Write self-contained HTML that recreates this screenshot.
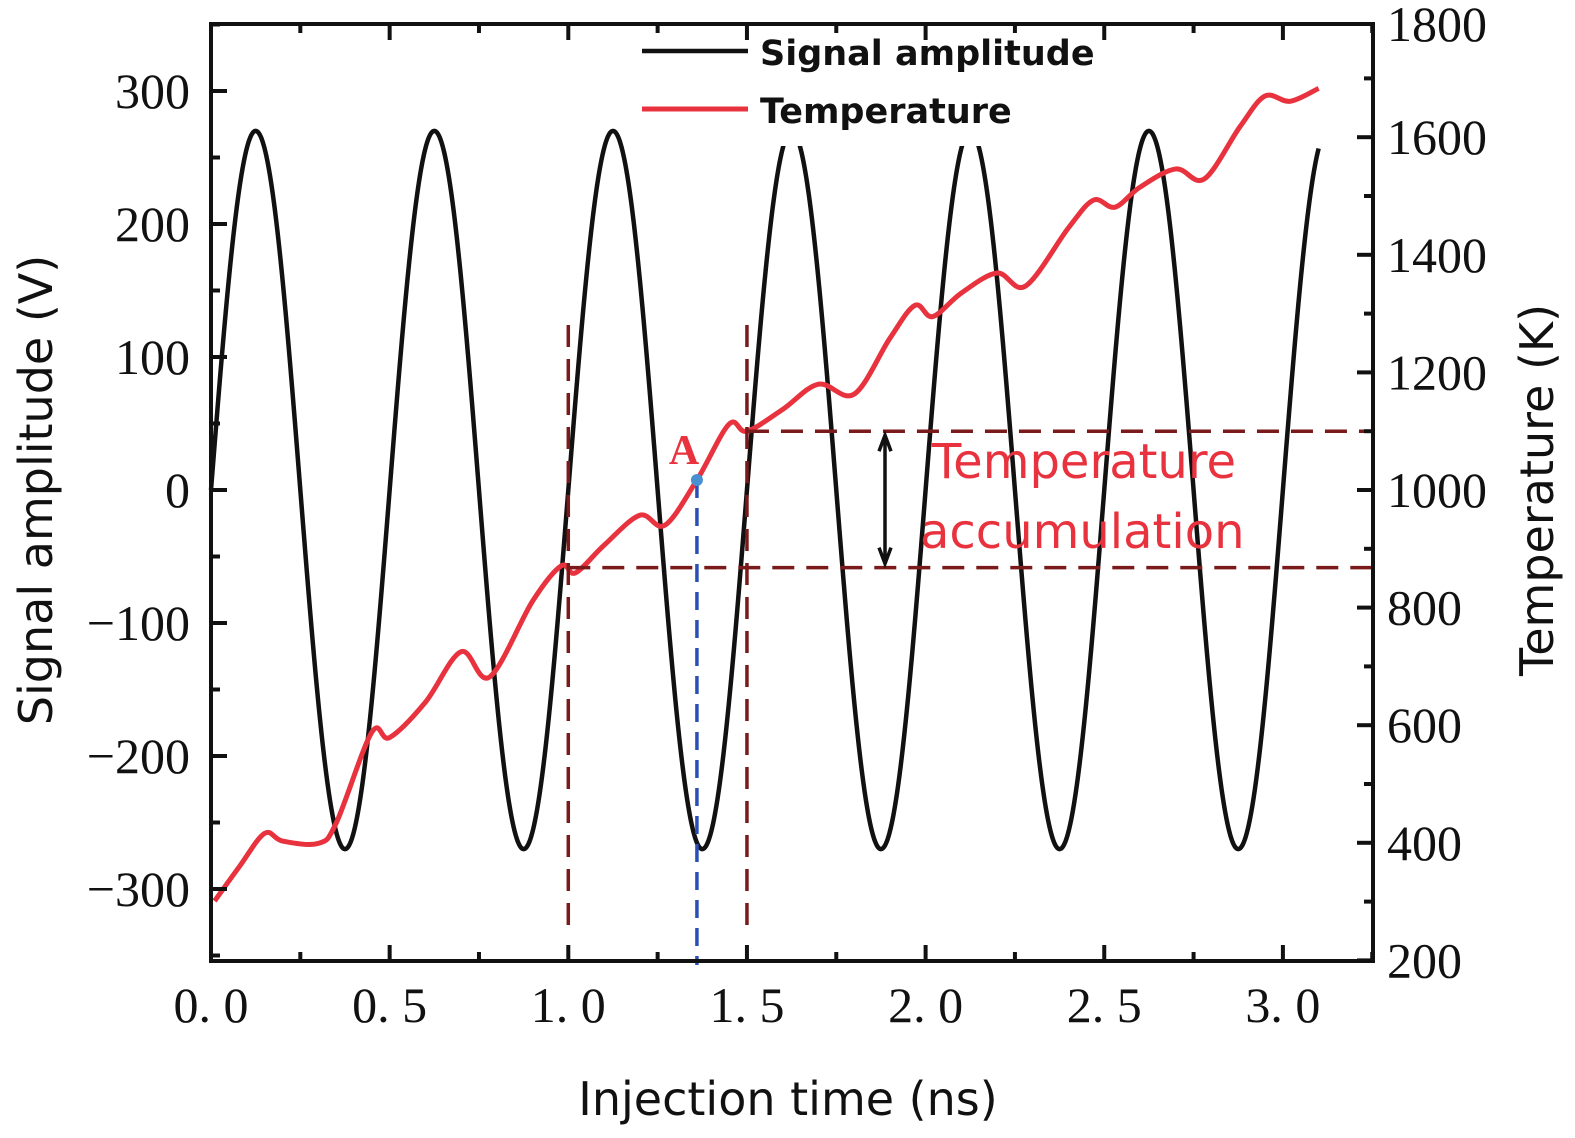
<!DOCTYPE html>
<html><head><meta charset="utf-8"><style>
html,body{margin:0;padding:0;background:#fff;}
svg{display:block;}
.tk{font-family:"Liberation Serif",serif;font-size:50px;fill:#111;}
.ax{font-family:"DejaVu Sans","Liberation Sans",sans-serif;font-size:46px;fill:#111;}
</style></head><body>
<svg id="chart" width="1575" height="1138" viewBox="0 0 1575 1138">
<g id="g-plot"></g>
</svg>
<script>
const timeTicks=[0,0.5,1.0,1.5,2.0,2.5,3.0];
const timeTickLabels=["0. 0","0. 5","1. 0","1. 5","2. 0","2. 5","3. 0"];
const ampTicks=[-300,-200,-100,0,100,200,300];
const ampTickLabels=["\u2212300","\u2212200","\u2212100","0","100","200","300"];
const tempTicks=[200,400,600,800,1000,1200,1400,1600,1800];
const tempTime=[0.01,0.08,0.15,0.2,0.3,0.35,0.45,0.5,0.6,0.7,0.78,0.9,0.98,1.02,1.1,1.2,1.27,1.36,1.45,1.5,1.6,1.7,1.8,1.9,1.97,2.02,2.1,2.2,2.28,2.4,2.47,2.53,2.6,2.7,2.78,2.88,2.95,3.02,3.1];
const tempValues=[301,360,416,403,399,433,588,579,639,725,682,811,871,859,906,957,940,1017,1112,1100,1137,1180,1163,1258,1314,1295,1335,1369,1347,1446,1493,1481,1515,1546,1529,1618,1670,1661,1683];
const signalAmplitude=[270];
const signalPeriod=[0.5];
const signalEnd=[3.1];
const pointA=[1.36,1017];
const accumLow=[868];
const accumHigh=[1100];
const windowStart=[1.0];
const windowEnd=[1.5];

const L=211,R=1373,T=24,B=961;
const xS=t=>L+t*357.3;
const yA=v=>490-v*1.33;
const yT=k=>490-(k-1000)*0.588;
const NS="http://www.w3.org/2000/svg";
const g=document.getElementById('g-plot');
function mk(tag,attrs,parent){const e=document.createElementNS(NS,tag);for(const k in attrs)e.setAttribute(k,attrs[k]);(parent||g).appendChild(e);return e;}

let d="";
const N=1200;
for(let i=0;i<=N;i++){const t=signalEnd[0]*i/N;const v=signalAmplitude[0]*Math.sin(2*Math.PI*t/signalPeriod[0]);d+=(i?"L":"M")+xS(t).toFixed(2)+","+yA(v).toFixed(2);}
const sig=mk('path',{d:d,fill:'none',stroke:'#111',"stroke-width":4.5,"stroke-linejoin":"round"});



const pts=tempTime.map((t,i)=>[xS(t),yT(tempValues[i])]);
let dt="M"+pts[0][0]+","+pts[0][1];
for(let i=0;i<pts.length-1;i++){const p0=pts[Math.max(0,i-1)],p1=pts[i],p2=pts[i+1],p3=pts[Math.min(pts.length-1,i+2)];
const c1=[p1[0]+(p2[0]-p0[0])/6,p1[1]+(p2[1]-p0[1])/6],c2=[p2[0]-(p3[0]-p1[0])/6,p2[1]-(p3[1]-p1[1])/6];
dt+="C"+c1.join(",")+" "+c2.join(",")+" "+p2.join(",");}
const tmp=mk('path',{d:dt,fill:'none',stroke:'#e8333f',"stroke-width":5,"stroke-linejoin":"round"});



const dash={stroke:'#7a1a1a',"stroke-width":3.5,"stroke-dasharray":"22,12",fill:'none'};
const v1=mk('line',Object.assign({x1:xS(windowStart[0]),x2:xS(windowStart[0]),y1:325,y2:930},dash));

const v2=mk('line',Object.assign({x1:xS(windowEnd[0]),x2:xS(windowEnd[0]),y1:325,y2:930},dash));

const h1=mk('line',Object.assign({x1:xS(windowEnd[0]),x2:R,y1:yT(accumHigh[0]),y2:yT(accumHigh[0])},dash));

const h2=mk('line',Object.assign({x1:xS(windowStart[0]),x2:R,y1:yT(accumLow[0]),y2:yT(accumLow[0])},dash));

const ax=885,ay1=yT(accumHigh[0]),ay2=yT(accumLow[0]);
const arr=mk('path',{d:`M${ax},${ay1+4}L${ax},${ay2-4}M${ax-6},${ay1+20}L${ax},${ay1+4}L${ax+6},${ay1+20}M${ax-6},${ay2-20}L${ax},${ay2-4}L${ax+6},${ay2-20}`,stroke:'#111',"stroke-width":3.5,fill:'none'});

const bl=mk('line',{x1:xS(pointA[0]),x2:xS(pointA[0]),y1:yT(pointA[1]),y2:965,stroke:'#2b4fb5',"stroke-width":3.5,"stroke-dasharray":"18,10"});

const dot=mk('circle',{cx:xS(pointA[0]),cy:yT(pointA[1]),r:6,fill:'#4a90d0'});

const tA=mk('text',{x:xS(pointA[0])-28,y:yT(pointA[1])-16,"font-family":"Liberation Serif, serif","font-weight":"bold","font-size":42,fill:'#e8333f'});tA.textContent="A";

const ta1=mk('text',{x:932,y:478,"font-family":"DejaVu Sans, sans-serif","font-size":48,fill:'#e8333f'});ta1.textContent="Temperature";

const ta2=mk('text',{x:920,y:548,"font-family":"DejaVu Sans, sans-serif","font-size":48,fill:'#e8333f'});ta2.textContent="accumulation";


const lg=mk('g',{});

mk('rect',{x:636,y:28,width:455,height:118,fill:'#fff'},lg);
const l1=mk('line',{x1:642,x2:748,y1:51,y2:51,stroke:'#111',"stroke-width":4.5},lg);

const lt1=mk('text',{x:760,y:65,"font-family":"DejaVu Sans, sans-serif","font-weight":"bold","font-size":35,fill:'#111'},lg);lt1.textContent="Signal amplitude";

const l2=mk('line',{x1:642,x2:748,y1:109,y2:109,stroke:'#e8333f',"stroke-width":5},lg);

const lt2=mk('text',{x:760,y:123,"font-family":"DejaVu Sans, sans-serif","font-weight":"bold","font-size":35,fill:'#111'},lg);lt2.textContent="Temperature";


const fr=mk('rect',{x:L,y:T,width:R-L,height:B-T,fill:'none',stroke:'#111',"stroke-width":4});


for(let t=0;t<=3.25+1e-9;t+=0.25){const x=xS(t);const major=Math.abs(t*2-Math.round(t*2))<1e-6;const len=major?16:9;
mk('line',{x1:x,x2:x,y1:B,y2:B-len,stroke:'#111',"stroke-width":4});mk('line',{x1:x,x2:x,y1:T,y2:T+len,stroke:'#111',"stroke-width":4});}
timeTicks.forEach((t,i)=>{const e=mk('text',{x:xS(t),y:1022,"text-anchor":"middle",class:'tk'});e.textContent=timeTickLabels[i];
});
for(let v=-350;v<=350;v+=50){const y=yA(v);if(y<T-1||y>B+1)continue;const len=(v%100===0)?16:9;mk('line',{x1:L,x2:L+len,y1:y,y2:y,stroke:'#111',"stroke-width":4});}
ampTicks.forEach((v,i)=>{const e=mk('text',{x:190,y:yA(v)+17,"text-anchor":"end",class:'tk'});e.textContent=ampTickLabels[i];
});
for(let k=200;k<=1800;k+=100){const y=yT(k);if(y<T-1||y>B+1)continue;const len=(k%200===0)?16:9;mk('line',{x1:R,x2:R-len,y1:y,y2:y,stroke:'#111',"stroke-width":4});}
tempTicks.forEach(k=>{const e=mk('text',{x:1387,y:Math.max(yT(k),24)+17,class:'tk'});e.textContent=String(k);
});

const xt=mk('text',{x:788,y:1115,"text-anchor":"middle",class:'ax'});xt.textContent="Injection time (ns)";

const yl=mk('text',{x:0,y:0,"text-anchor":"middle",class:'ax',transform:"translate(52,490) rotate(-90)"});yl.textContent="Signal amplitude (V)";

const yr=mk('text',{x:0,y:0,"text-anchor":"middle",class:'ax',transform:"translate(1553,490) rotate(-90)"});yr.textContent="Temperature (K)";

</script>
</body></html>
